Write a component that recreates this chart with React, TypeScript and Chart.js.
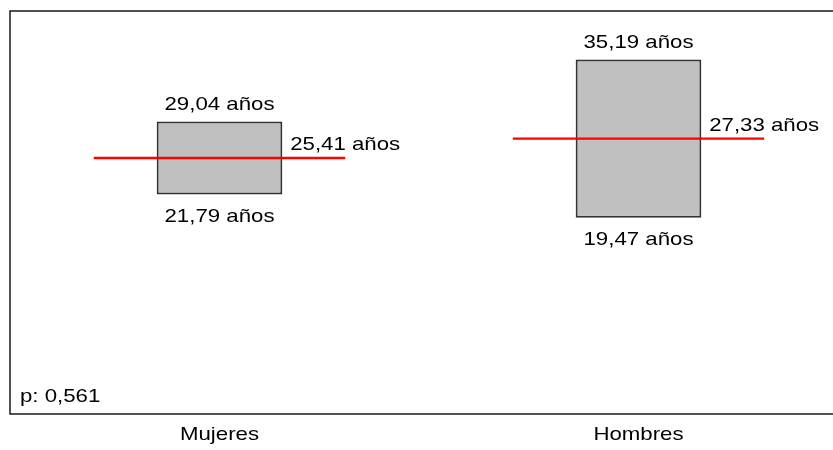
import React, { useEffect, useRef } from "react";
import { Chart, registerables } from "chart.js";

Chart.register(...registerables);

// Age ranges per group: lower and upper limits of the box, and the mean
const groups = ["Mujeres", "Hombres"];
const lowerAges = [21.79, 19.47];
const upperAges = [29.04, 35.19];
const meanAges = [25.41, 27.33];
const pValue = 0.561;

const yMin = 0;
const yMax = 40;

const FONT = '19px "Liberation Sans", Arial, sans-serif';
const STRETCH = 1.17;

const fmt = (v: number, d: number) => v.toFixed(d).replace(".", ",");
const ageText = (v: number) => `${fmt(v, 2)} años`;

function stretchedText(
  ctx: CanvasRenderingContext2D,
  text: string,
  x: number,
  y: number,
  align: CanvasTextAlign
) {
  ctx.save();
  ctx.translate(x, y);
  ctx.scale(STRETCH, 1);
  ctx.textAlign = align;
  ctx.textBaseline = "alphabetic";
  ctx.fillText(text, 0, 0);
  ctx.restore();
}

const overlayPlugin = {
  id: "boxOverlay",
  beforeDatasetsDraw(chart: any) {
    const { ctx, chartArea, width } = chart;
    // frame: left, top and bottom rules
    ctx.save();
    ctx.strokeStyle = "#1a1a1a";
    ctx.lineWidth = 1.5;
    ctx.beginPath();
    ctx.moveTo(width, chartArea.top);
    ctx.lineTo(chartArea.left, chartArea.top);
    ctx.lineTo(chartArea.left, chartArea.bottom);
    ctx.lineTo(width, chartArea.bottom);
    ctx.stroke();
    ctx.restore();
  },
  afterDatasetsDraw(chart: any) {
    const { ctx, chartArea } = chart;
    const xs = chart.scales.x;
    const ys = chart.scales.y;
    const catWidth = (chartArea.right - chartArea.left) / groups.length;
    const half = catWidth * 0.3;

    ctx.save();
    // mean lines
    ctx.strokeStyle = "#ff0000";
    ctx.lineWidth = 2.4;
    meanAges.forEach((m, i) => {
      const cx = xs.getPixelForValue(i);
      const y = ys.getPixelForValue(m);
      ctx.beginPath();
      ctx.moveTo(cx - half, y);
      ctx.lineTo(cx + half, y);
      ctx.stroke();
    });

    ctx.fillStyle = "#000";
    ctx.font = FONT;
    groups.forEach((g, i) => {
      const cx = xs.getPixelForValue(i);
      const top = ys.getPixelForValue(upperAges[i]);
      const bottom = ys.getPixelForValue(lowerAges[i]);
      const mean = ys.getPixelForValue(meanAges[i]);
      stretchedText(ctx, ageText(upperAges[i]), cx, top - 11.5, "center");
      stretchedText(ctx, ageText(lowerAges[i]), cx, bottom + 27.5, "center");
      stretchedText(ctx, ageText(meanAges[i]), cx + half, mean - 7.5, "center");
      // category label under the frame
      stretchedText(ctx, g, cx, chartArea.bottom + 26, "center");
    });

    stretchedText(ctx, `p: ${fmt(pValue, 3)}`, chartArea.left + 10, chartArea.bottom - 12, "left");
    ctx.restore();
  },
};

export default function App() {
  const canvasRef = useRef<HTMLCanvasElement | null>(null);

  useEffect(() => {
    if (!canvasRef.current) return;
    const chart = new Chart(canvasRef.current, {
      type: "bar",
      data: {
        labels: groups,
        datasets: [
          {
            data: groups.map((_, i) => [lowerAges[i], upperAges[i]]),
            backgroundColor: "#c0c0c0",
            borderColor: "#333333",
            borderWidth: 2,
            borderSkipped: false,
            categoryPercentage: 1,
            barPercentage: 0.3,
          },
        ],
      },
      options: {
        responsive: false,
        animation: false,
        devicePixelRatio: 1,
        layout: { padding: { left: 10, top: 11, right: 12, bottom: 36 } },
        plugins: {
          legend: { display: false },
          tooltip: { enabled: false },
        },
        scales: {
          x: { type: "category", offset: true, display: false },
          y: { type: "linear", min: yMin, max: yMax, display: false },
        },
      },
      plugins: [overlayPlugin],
    });
    return () => chart.destroy();
  }, []);

  return (
    <div
      style={{
        position: "fixed",
        left: 0,
        top: 0,
        width: 833,
        height: 450,
        overflow: "hidden",
        background: "#fff",
      }}
    >
      <canvas ref={canvasRef} width={860} height={450} style={{ display: "block", width: 860, height: 450 }} />
    </div>
  );
}
